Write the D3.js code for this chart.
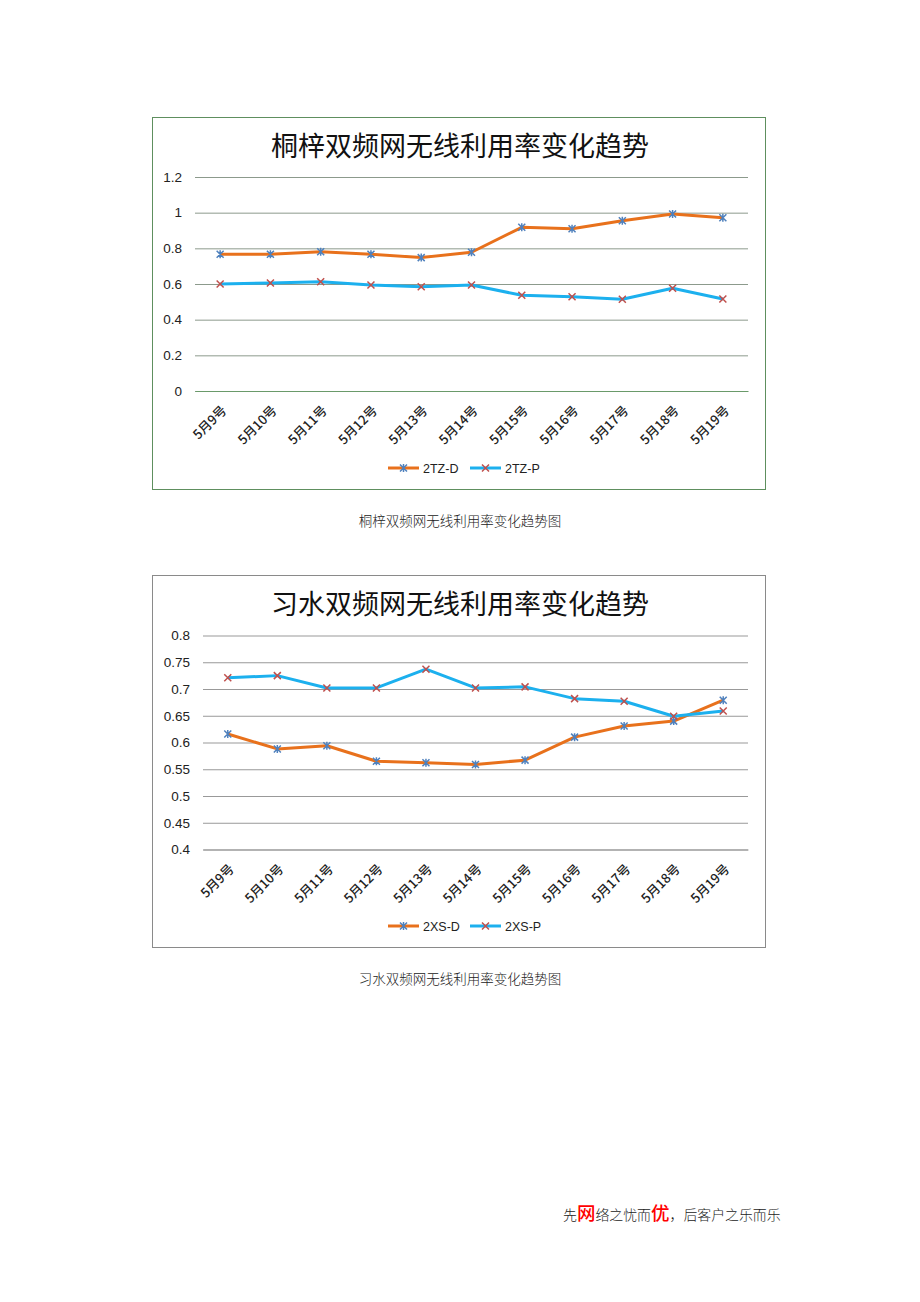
<!DOCTYPE html>
<html><head><meta charset="utf-8">
<script src="https://cdn.jsdelivr.net/npm/d3@7/dist/d3.min.js"></script>
<style>
html,body{margin:0;padding:0;background:#fff;}
svg{display:block;}
</style></head>
<body>
<svg id="page" width="920" height="1302"></svg>
<script>
const categories = ["5月9号","5月10号","5月11号","5月12号","5月13号","5月14号","5月15号","5月16号","5月17号","5月18号","5月19号"];

const chart1Title = "桐梓双频网无线利用率变化趋势";
const chart1Caption = "桐梓双频网无线利用率变化趋势图";
const chart1SeriesNames = ["2TZ-D","2TZ-P"];
const tz_D = [0.767,0.767,0.781,0.767,0.748,0.778,0.918,0.910,0.955,0.993,0.972];
const tz_P = [0.600,0.606,0.613,0.594,0.585,0.594,0.537,0.529,0.514,0.576,0.516];
const chart1Ticks = [0,0.2,0.4,0.6,0.8,1,1.2];
const chart1TickLabels = ["0","0.2","0.4","0.6","0.8","1","1.2"];

const chart2Title = "习水双频网无线利用率变化趋势";
const chart2Caption = "习水双频网无线利用率变化趋势图";
const chart2SeriesNames = ["2XS-D","2XS-P"];
const xs_D = [0.616,0.588,0.594,0.565,0.562,0.559,0.567,0.610,0.631,0.640,0.679];
const xs_P = [0.721,0.725,0.702,0.702,0.737,0.702,0.704,0.682,0.677,0.649,0.659];
const chart2Ticks = [0.4,0.45,0.5,0.55,0.6,0.65,0.7,0.75,0.8];
const chart2TickLabels = ["0.4","0.45","0.5","0.55","0.6","0.65","0.7","0.75","0.8"];

const footerParts = [
  {t:"先", red:false},{t:"网", red:true},{t:"络之忧而", red:false},{t:"优", red:true},{t:"，后客户之乐而乐", red:false}
];

const ORANGE = "#e8711c", BLUE = "#1cb0ee", MBLUE = "#4f81bd", MRED = "#c0504d";
const svg = d3.select("#page");

function marker(g, type, x, y) {
  const s = 3.5;
  const col = type === "star" ? MBLUE : MRED;
  const p = d3.path();
  p.moveTo(x-s,y-s); p.lineTo(x+s,y+s);
  p.moveTo(x-s,y+s); p.lineTo(x+s,y-s);
  if (type === "star") { p.moveTo(x,y-s-0.5); p.lineTo(x,y+s+0.5); }
  g.append("path").attr("d", p.toString()).attr("stroke", col).attr("stroke-width", 1.5).attr("fill","none");
}

function drawChart(o) {
  const g = svg.append("g");
  g.append("rect").attr("x", o.frame[0]+0.5).attr("y", o.frame[1]+0.5)
    .attr("width", o.frame[2]).attr("height", o.frame[3])
    .attr("fill","#fff").attr("stroke", o.frameColor).attr("stroke-width",1);
  g.append("text").attr("x", 460).attr("y", o.titleY).attr("text-anchor","middle")
    .attr("font-family","'Noto Sans CJK SC'").attr("font-size",27).attr("font-weight",400).attr("fill","#111")
    .text(o.title);

  const x = d3.scaleBand().domain(categories).range([o.left, o.right]);
  const y = d3.scaleLinear().domain(o.domain).range([o.bottom, o.top]);

  const ga = g.append("g").attr("transform", `translate(${o.left},0)`)
    .call(d3.axisLeft(y).tickValues(o.ticks).tickSize(-(o.right-o.left)).tickPadding(13)
      .tickFormat((d,i)=>o.tickLabels[i]));
  ga.select(".domain").remove();
  ga.selectAll(".tick line").attr("stroke", o.gridColor).attr("stroke-width",1);
  ga.selectAll(".tick text").attr("font-family","'Liberation Sans', Arial").attr("font-size",13.5).attr("fill","#222");

  const gx = g.append("g").attr("transform", `translate(0,${o.bottom})`)
    .call(d3.axisBottom(x).tickSize(0).tickPadding(0));
  gx.select(".domain").attr("stroke", o.axisColor);
  gx.selectAll(".tick text")
    .attr("font-family","'Noto Sans CJK SC'").attr("font-size",13).attr("font-weight",500).attr("fill","#222")
    .attr("text-anchor","end")
    .attr("transform", "translate(4,17) rotate(-45)")
    .attr("dy","0.35em").attr("y",0);

  const line = d3.line().x((d,i)=>x(categories[i]) + x.bandwidth()/2).y(d=>y(d));
  o.series.forEach(s=>{
    g.append("path").datum(s.values).attr("d", line).attr("fill","none")
      .attr("stroke", s.color).attr("stroke-width",3).attr("stroke-linejoin","round");
  });
  o.series.forEach(s=>{
    s.values.forEach((v,i)=> marker(g, s.marker, x(categories[i]) + x.bandwidth()/2, y(v)));
  });

  const lg = g.append("g");
  o.series.forEach((s,i)=>{
    const lx = o.legendX[i];
    lg.append("line").attr("x1", lx).attr("x2", lx+31).attr("y1", o.legendY).attr("y2", o.legendY)
      .attr("stroke", s.color).attr("stroke-width",3);
    marker(lg, s.marker, lx+15.5, o.legendY);
    lg.append("text").attr("x", lx+35).attr("y", o.legendY+4.5)
      .attr("font-family","'Liberation Sans', Arial").attr("font-size",12.5).attr("fill","#222").text(s.name);
  });

  g.append("text").attr("x", 460).attr("y", o.captionY).attr("text-anchor","middle")
    .attr("font-family","'Noto Sans CJK SC'").attr("font-size",13.5).attr("font-weight",300).attr("fill","#222").text(o.caption);
}

drawChart({
  frame:[152,117,613,372], frameColor:"#5e8f5e", title: chart1Title, titleY:156,
  left:195, right:748, top:177, bottom:391, domain:[0,1.2], ticks:chart1Ticks, tickLabels:chart1TickLabels,
  gridColor:"#8c9a8c", axisColor:"#6a9a6a",
  series:[{name:chart1SeriesNames[0], values:tz_D, color:ORANGE, marker:"star"},
          {name:chart1SeriesNames[1], values:tz_P, color:BLUE, marker:"x"}],
  legendX:[388,470], legendY:468, caption: chart1Caption, captionY:526
});

drawChart({
  frame:[152,575,613,372], frameColor:"#8a8a8a", title: chart2Title, titleY:614,
  left:203, right:748, top:635.5, bottom:849.5, domain:[0.4,0.8], ticks:chart2Ticks, tickLabels:chart2TickLabels,
  gridColor:"#999999", axisColor:"#999999",
  series:[{name:chart2SeriesNames[0], values:xs_D, color:ORANGE, marker:"star"},
          {name:chart2SeriesNames[1], values:xs_P, color:BLUE, marker:"x"}],
  legendX:[388,470], legendY:926, caption: chart2Caption, captionY:984
});

const ft = svg.append("text").attr("x", 563).attr("y", 1220)
  .attr("font-family","'Noto Sans CJK SC'").attr("fill","#222");
footerParts.forEach(p=>{
  ft.append("tspan").attr("font-size", p.red?18.5:13.9).attr("fill", p.red?"#ff0000":"#222")
    .attr("font-weight", p.red?500:300).text(p.t);
});
</script>
</body></html>
